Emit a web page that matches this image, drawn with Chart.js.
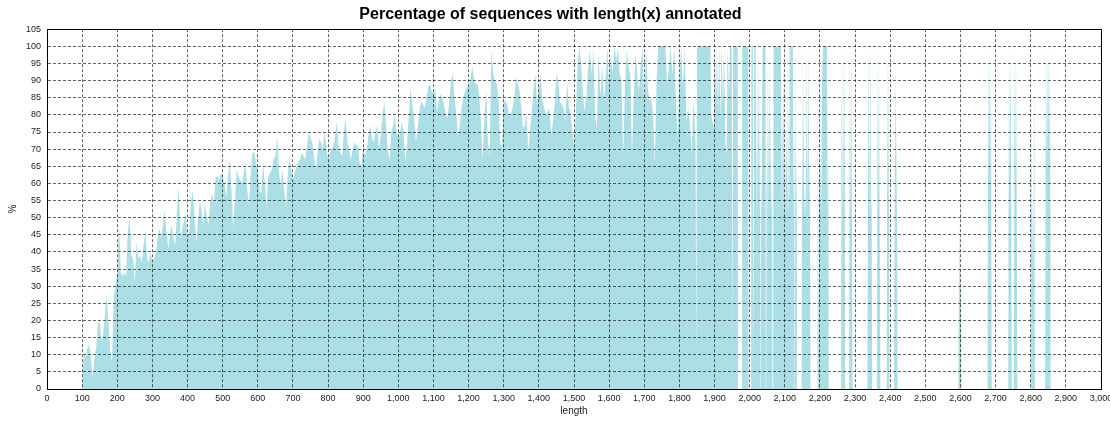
<!DOCTYPE html>
<html>
<head>
<meta charset="utf-8">
<title>Percentage of sequences with length(x) annotated</title>
<script src="https://cdn.jsdelivr.net/npm/chart.js@4.4.1/dist/chart.umd.min.js"></script>
<style>
  html, body { margin: 0; padding: 0; background: #fff; }
  canvas { display: block; }
</style>
</head>
<body>
<canvas id="chart" width="1110" height="423"></canvas>
<script>
// dense part: one value every 5 bases, starting at length 100
const denseStart = 100
const denseStep = 5
const densePct = [
  1, 11, 9, 12, 13, 9, 3, 9, 12, 19, 20, 14, 16, 22, 28, 19, 11, 8, 27, 30,         // 100
  34, 49, 34, 33, 34, 33, 46, 50, 39, 38, 31, 43, 38, 39, 37, 42, 46, 38, 37, 40,   // 200
  37, 38, 40, 44, 47, 44, 48, 52, 46, 41, 45, 48, 44, 42, 52, 59, 44, 47, 49, 51,   // 300
  44, 46, 55, 58, 50, 43, 49, 55, 52, 48, 54, 50, 48, 55, 57, 54, 62, 62, 61, 63,   // 400
  62, 60, 56, 62, 67, 58, 47, 55, 64, 62, 61, 60, 63, 66, 58, 54, 63, 69, 69, 66,   // 500
  64, 58, 57, 66, 60, 53, 62, 63, 64, 67, 68, 74, 64, 59, 64, 58, 53, 62, 68, 64,   // 600
  61, 63, 65, 66, 67, 69, 68, 67, 71, 75, 73, 72, 68, 64, 69, 73, 72, 70, 75, 71,   // 700
  67, 69, 70, 71, 74, 78, 71, 69, 68, 75, 79, 72, 70, 67, 70, 72, 71, 71, 66, 65,   // 800
  71, 68, 70, 74, 77, 73, 72, 75, 77, 70, 74, 80, 84, 77, 70, 67, 75, 77, 80, 75,   // 900
  73, 75, 78, 75, 66, 72, 80, 88, 83, 79, 72, 76, 81, 84, 83, 82, 85, 88, 89, 87,   // 1000
  86, 88, 81, 84, 86, 85, 83, 80, 79, 84, 90, 92, 85, 80, 74, 77, 82, 85, 87, 88,   // 1100
  88, 90, 94, 91, 89, 89, 86, 78, 67, 80, 87, 72, 68, 99, 92, 90, 89, 85, 72, 70,   // 1200
  84, 84, 83, 80, 80, 82, 85, 91, 89, 87, 82, 76, 77, 80, 69, 76, 81, 88, 92, 83,   // 1300
  88, 92, 84, 82, 80, 81, 82, 74, 78, 83, 92, 90, 84, 83, 82, 78, 90, 83, 80, 76,   // 1400
  71, 80, 94, 100, 95, 87, 81, 85, 93, 99, 92, 99, 80, 76, 98, 85, 95, 84, 90, 100, // 1500
  88, 98, 92, 100, 96, 99, 92, 90, 68, 88, 99, 94, 92, 69, 85, 98, 92, 87, 95, 100, // 1600
  82, 100, 88, 84, 85, 80, 66, 90, 100, 100, 100, 100, 100, 89, 94, 100, 92, 100, 85, 73, // 1700
  90, 100, 88, 100, 78, 82, 77, 69, 84                                              // 1800
]

// sparse tail: one or two sequences per length, so values flip between 0, 50 and 100
const sparseLengths = [
  1843, 1846, 1848, 1850, 1888, 1891, 1894, 1898, 1901, 1904, 1907, 1910, 1913, 1917, 1920,
  1924, 1927, 1931, 1934, 1937, 1941, 1944, 1949, 1951, 1953, 1966, 1967, 1978, 1979, 1996,
  1997, 2004, 2005, 2009, 2011, 2013, 2017, 2019, 2021, 2023, 2025, 2027, 2029, 2030, 2031,
  2032, 2034, 2036, 2037, 2045, 2046, 2047, 2048, 2050, 2052, 2054, 2056, 2058, 2060, 2062,
  2064, 2065, 2067, 2068, 2089, 2091, 2093, 2095, 2097, 2099, 2101, 2103, 2105, 2107, 2109,
  2111, 2113, 2114, 2123, 2125, 2127, 2128, 2129, 2130, 2132, 2134, 2135, 2148, 2149, 2151,
  2153, 2155, 2157, 2159, 2161, 2163, 2165, 2167, 2169, 2171, 2173, 2193, 2194, 2196, 2198,
  2200, 2202, 2204, 2206, 2208, 2209, 2220, 2222, 2224, 2225, 2260, 2262, 2264, 2266, 2268,
  2270, 2272, 2283, 2285, 2287, 2289, 2291, 2293, 2335, 2337, 2339, 2341, 2343, 2345, 2347,
  2349, 2362, 2364, 2366, 2368, 2370, 2372, 2390, 2392, 2394, 2396, 2398, 2411, 2413, 2415,
  2417, 2419, 2421, 2594, 2597, 2599, 2601, 2603, 2677, 2679, 2681, 2683, 2685, 2687, 2689,
  2736, 2738, 2740, 2742, 2744, 2746, 2752, 2754, 2756, 2758, 2760, 2762, 2800, 2802, 2804,
  2806, 2808, 2810, 2812, 2841, 2843, 2845, 2847, 2849, 2851, 2853, 2855, 2857
]
const sparsePct = [
  80, 72, 8, 100, 100, 80, 78, 76, 100, 84, 100, 80, 100, 78, 100,
  82, 100, 72, 68, 100, 86, 100, 100, 12, 100, 100, 0, 0, 100, 100,
  0, 0, 100, 100, 0, 100, 100, 50, 100, 50, 100, 50, 100, 0, 0,
  60, 50, 90, 100, 100, 0, 0, 70, 50, 100, 50, 100, 50, 80, 50,
  60, 0, 0, 100, 100, 50, 90, 50, 100, 50, 70, 50, 80, 50, 100,
  50, 60, 100, 100, 50, 80, 0, 0, 100, 50, 70, 0, 0, 100, 50,
  90, 50, 60, 50, 70, 100, 50, 100, 50, 70, 0, 0, 100, 0, 90,
  50, 70, 50, 100, 90, 100, 100, 50, 70, 0, 0, 100, 50, 100, 50,
  100, 0, 0, 100, 50, 100, 50, 0, 0, 60, 100, 50, 100, 50, 60,
  0, 0, 100, 50, 100, 50, 0, 0, 100, 50, 100, 0, 0, 60, 97,
  50, 80, 0, 0, 50, 20, 40, 0, 0, 100, 60, 100, 60, 100, 0,
  0, 100, 60, 100, 60, 0, 0, 100, 60, 100, 60, 0, 0, 90, 35,
  60, 33, 94, 0, 0, 100, 67, 100, 67, 100, 67, 100, 0
]

const yTicksMax = 105
const xTicksMax = 3000

const points = []
densePct.forEach((v, i) => points.push({ x: denseStart + i * denseStep, y: v }))
sparseLengths.forEach((len, i) => points.push({ x: len, y: sparsePct[i] }))

const fillColor = 'rgb(172, 222, 230)'
const gridDash = [3, 2]

// closes the plot box on the top and right side
const frame = {
  id: 'frame',
  afterDraw(chart) {
    const { ctx, chartArea: a } = chart
    ctx.save()
    ctx.strokeStyle = '#000'
    ctx.lineWidth = 1
    ctx.strokeRect(Math.round(a.left) + 0.5, Math.round(a.top) + 0.5,
      Math.round(a.right - a.left), Math.round(a.bottom - a.top))
    ctx.restore()
  }
}

new Chart(document.getElementById('chart'), {
  type: 'line',
  data: {
    datasets: [{
      label: '%',
      data: points,
      fill: 'origin',
      backgroundColor: fillColor,
      borderColor: 'rgba(0,0,0,0)',
      borderWidth: 0,
      borderDash: [1, 0],
      pointRadius: 0,
      tension: 0
    }]
  },
  options: {
    responsive: false,
    animation: false,
    devicePixelRatio: 1,
    layout: { padding: { left: 0, right: 9, top: 0, bottom: 0 } },
    plugins: {
      legend: { display: false },
      tooltip: { enabled: false },
      title: {
        display: true,
        text: 'Percentage of sequences with length(x) annotated',
        color: '#000',
        font: { family: 'Liberation Sans, Arial, sans-serif', size: 16, weight: 'bold' },
        padding: { top: 5, bottom: 5 }
      }
    },
    scales: {
      x: {
        type: 'linear',
        min: 0,
        max: xTicksMax,
        afterFit: s => { s.height = 34; s.paddingLeft = 0; s.paddingRight = 0 },
        ticks: {
          stepSize: 100,
          autoSkip: false,
          maxRotation: 0,
          padding: 4,
          color: '#222',
          font: { family: 'Liberation Sans, Arial, sans-serif', size: 9 }
        },
        grid: { color: 'rgba(0,0,0,0.6)', drawTicks: false, z: 1 },
        border: { display: true, color: '#000', width: 1, dash: gridDash, z: 1 },
        title: {
          display: true,
          text: 'length',
          color: '#222',
          font: { family: 'Liberation Sans, Arial, sans-serif', size: 10 },
          padding: { top: 0, bottom: 6 }
        }
      },
      y: {
        min: 0,
        max: yTicksMax,
        afterFit: s => { s.width = 47 },
        ticks: {
          stepSize: 5,
          autoSkip: false,
          padding: 6,
          color: '#222',
          font: { family: 'Liberation Sans, Arial, sans-serif', size: 9 }
        },
        grid: { color: 'rgba(0,0,0,0.6)', drawTicks: false, z: 1 },
        border: { display: true, color: '#000', width: 1, dash: gridDash, z: 1 },
        title: {
          display: true,
          text: '%',
          color: '#222',
          font: { family: 'Liberation Sans, Arial, sans-serif', size: 10 },
          padding: { top: 7, bottom: 0 }
        }
      }
    }
  },
  plugins: [frame]
})
</script>
</body>
</html>
